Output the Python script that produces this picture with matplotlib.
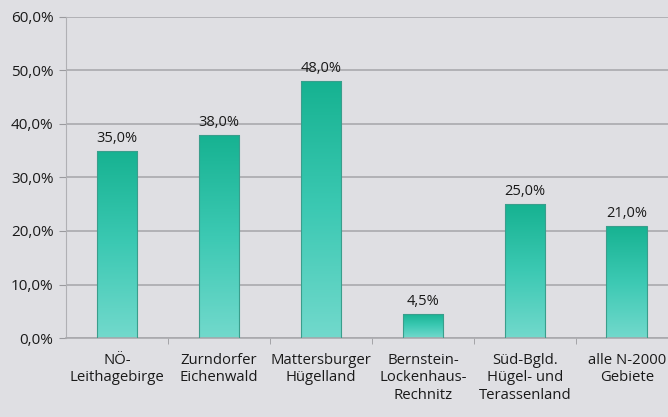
import numpy as np
import matplotlib.pyplot as plt
from matplotlib.colors import LinearSegmentedColormap

regions = ["NÖ-\nLeithagebirge", "Zurndorfer\nEichenwald", "Mattersburger\nHügelland",
           "Bernstein-\nLockenhaus-\nRechnitz", "Süd-Bgld.\nHügel- und\nTerassenland",
           "alle N-2000\nGebiete"]
shares = [35.0, 38.0, 48.0, 4.5, 25.0, 21.0]
yticks = [0, 10, 20, 30, 40, 50, 60]

plt.rcParams['font.family'] = ['Open Sans', 'DejaVu Sans']
bg = '#dfdfe3'
txt = '#1a1a1a'

fig = plt.figure(figsize=(6.68, 4.17), dpi=100, facecolor=bg)
ax = fig.add_axes([0.0988, 0.1894, 0.916, 0.770])
ax.set_facecolor(bg)

x = np.arange(len(regions))
bars = ax.bar(x, shares, width=0.4, color='none', edgecolor='#3a9e8c', linewidth=0.8, zorder=3)

# vertical teal gradient inside each bar
cmap = LinearSegmentedColormap.from_list('teal', ['#72d9cc', '#3cc9b3', '#16b291'])
grad = np.linspace(0, 1, 256).reshape(-1, 1)
for b in bars:
    x0, w, h = b.get_x(), b.get_width(), b.get_height()
    im = ax.imshow(grad, cmap=cmap, origin='lower', aspect='auto',
                   extent=[x0, x0 + w, 0, h], zorder=2)
    im.set_clip_path(b)
    ax.text(x0 + w / 2, h + 0.9, f"{h:.1f}%".replace('.', ','), ha='center', va='bottom',
            fontsize=10.5, color=txt, zorder=4)

ax.set_xlim(-0.5, len(regions) - 0.5)
ax.set_ylim(0, 60)
ax.set_yticks(yticks)
ax.set_yticklabels([f"{v:.1f}%".replace('.', ',') for v in yticks], fontsize=11, color=txt)
ax.set_xticks(x)
ax.set_xticklabels(regions, fontsize=10.7, color=txt, linespacing=1.2)
ax.tick_params(axis='x', length=0, pad=11)
ax.tick_params(axis='y', length=5, color='#9a9a9e', pad=4)
ax.set_xticks(np.arange(0.5, len(regions) - 0.5), minor=True)
ax.tick_params(axis='x', which='minor', length=4, color='#9a9a9e')

ax.yaxis.grid(True, color='#a9a9ad', linewidth=1.2, zorder=1)
ax.set_axisbelow(True)
for s in ['top', 'right']:
    ax.spines[s].set_visible(False)
ax.spines['left'].set_color('#b0b0b4')
ax.spines['bottom'].set_color('#a9a9ad')
ax.spines['bottom'].set_linewidth(1.2)

fig.savefig('out.png', dpi=100, facecolor=bg)
